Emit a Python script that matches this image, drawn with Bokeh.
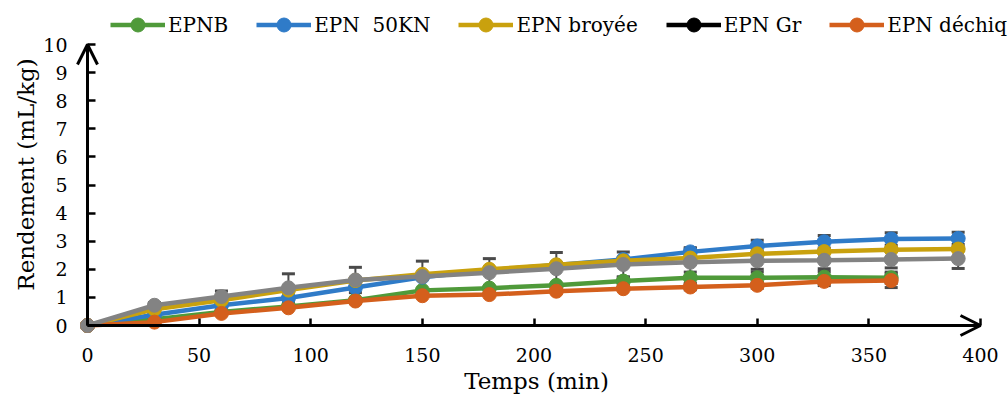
import math
from bokeh.plotting import figure
from bokeh.models import (Range1d, FixedTicker, Arrow, OpenHead, Legend,
                          LegendItem, Label)
from bokeh.embed import file_html
from bokeh.resources import INLINE

# ---------------- data ----------------
time_min = [0, 30, 60, 90, 120, 150, 180, 210, 240, 270, 300, 330, 360, 390]

epnb = [0, 0.22, 0.48, 0.68, 0.9, 1.25, 1.33, 1.43, 1.58, 1.7, 1.7, 1.72, 1.7]
epnb_err = [0, 0, 0, 0, 0, 0, 0, 0, 0.15, 0.2, 0.2, 0.2, 0.2]

epn_50kn = [0, 0.38, 0.72, 0.98, 1.35, 1.72, 1.97, 2.15, 2.35, 2.62, 2.83, 2.98, 3.08, 3.1]
epn_50kn_err = [0, 0, 0, 0, 0, 0, 0, 0, 0, 0.15, 0.2, 0.22, 0.22, 0.22]

epn_broyee = [0, 0.58, 0.9, 1.26, 1.6, 1.82, 2.0, 2.16, 2.3, 2.4, 2.55, 2.63, 2.7, 2.72]
epn_broyee_err = [0, 0, 0, 0, 0, 0, 0, 0, 0, 0.05, 0.05, 0.05, 0.05, 0.05]

epn_dechiq = [0, 0.12, 0.43, 0.63, 0.87, 1.06, 1.1, 1.22, 1.31, 1.37, 1.43, 1.57, 1.6]
epn_dechiq_err = [0, 0, 0, 0, 0, 0, 0, 0, 0, 0.1, 0.1, 0.15, 0.25]

epn_gris = [0, 0.72, 1.03, 1.34, 1.62, 1.74, 1.88, 2.02, 2.17, 2.25, 2.3, 2.32, 2.35, 2.38]
epn_gris_err = [0, 0.1, 0.2, 0.5, 0.45, 0.55, 0.5, 0.58, 0.45, 0.5, 0.3, 0.3, 0.3, 0.35]

x_ticks = [0, 50, 100, 150, 200, 250, 300, 350, 400]
y_ticks = [0, 1, 2, 3, 4, 5, 6, 7, 8, 9, 10]

legend_labels = ["EPNB", "EPN  50KN", "EPN broyée", "EPN Gr", "EPN déchiq"]
x_title = "Temps (min)"
y_title = "Rendement (mL/kg)"

# ---------------- style ----------------
FONT = "DejaVu Serif"
C_GREEN = "#4F9A3A"
C_BLUE = "#2F7BC8"
C_GOLD = "#C9A10E"
C_BLACK = "#000000"
C_ORANGE = "#D45F1C"
C_GRAY = "#838383"
C_ERR = "#4A4A4A"
LW = 4.5
MS = 14

W, H = 1008, 395
X0_PX, XPX = 87, 2.2325      # pixel of x=0, pixels per minute
Y0_PX, YPX = 325, 28.1       # pixel of y=0, pixels per unit

p = figure(width=W, height=H, output_backend="svg", toolbar_location=None,
           title_location=None,
           x_range=Range1d(-X0_PX / XPX, (W - X0_PX) / XPX),
           y_range=Range1d(-(H - Y0_PX) / YPX, Y0_PX / YPX),
           min_border_left=0, min_border_right=0, min_border_top=0,
           min_border_bottom=0)
p.grid.visible = False
p.outline_line_color = None
p.background_fill_color = "white"
p.border_fill_color = "white"

for ax, ticks in ((p.xaxis[0], x_ticks), (p.yaxis[0], y_ticks)):
    ax.fixed_location = 0
    ax.ticker = FixedTicker(ticks=ticks)
    ax.axis_line_color = None
    ax.major_tick_out = 0
    ax.major_tick_line_width = 2.5
    ax.major_tick_line_color = "black"
    ax.minor_tick_line_color = None
    ax.major_label_text_font = FONT
    ax.major_label_text_font_size = "19px"
    ax.major_label_text_color = "black"

p.xaxis[0].major_tick_in = 7
p.xaxis[0].major_label_standoff = 22
p.yaxis[0].major_tick_in = 8
p.yaxis[0].major_label_standoff = 20

p.add_layout(Label(x=536, y=H - 380, x_units="screen", y_units="screen",
                   text=x_title, text_font=FONT, text_font_size="23px",
                   text_color="black", text_align="center",
                   text_baseline="middle"))
p.add_layout(Label(x=25, y=H - 174, x_units="screen", y_units="screen",
                   text=y_title, text_font=FONT, text_font_size="23px",
                   text_color="black", text_align="center",
                   text_baseline="middle", angle=math.pi / 2))

# error bars (drawn beneath the series)
def errorbars(vals, errs):
    t = time_min[:len(vals)]
    lo = [v - e for v, e in zip(vals, errs)]
    hi = [v + e for v, e in zip(vals, errs)]
    p.segment(x0=t, y0=lo, x1=t, y1=hi, line_color=C_ERR, line_width=2)
    p.scatter(x=t + t, y=lo + hi, marker="dash", size=13, line_color=C_ERR,
              line_width=3)

for vals, errs in ((epnb, epnb_err), (epn_50kn, epn_50kn_err),
                   (epn_broyee, epn_broyee_err), (epn_dechiq, epn_dechiq_err),
                   (epn_gris, epn_gris_err)):
    errorbars(vals, errs)

def series(vals, color):
    t = time_min[:len(vals)]
    r1 = p.line(x=t, y=vals, line_color=color, line_width=LW)
    r2 = p.scatter(x=t, y=vals, marker="circle", size=MS, fill_color=color,
                   line_color=color)
    return [r1, r2]

r_epnb = series(epnb, C_GREEN)
r_50kn = series(epn_50kn, C_BLUE)
r_broy = series(epn_broyee, C_GOLD)
# legend-only proxy for the black "EPN Gr" entry (no visible point)
nan = float("nan")
r_gr = [p.line(x=[nan], y=[nan], line_color=C_BLACK, line_width=LW),
        p.scatter(x=[nan], y=[nan], marker="circle", size=MS,
                  fill_color=C_BLACK, line_color=C_BLACK)]
r_dech = series(epn_dechiq, C_ORANGE)
r_gris = series(epn_gris, C_GRAY)

# axes with arrow heads
p.add_layout(Arrow(end=OpenHead(size=20, line_width=3, line_color="black"),
                   x_start=x_ticks[0], y_start=y_ticks[0], x_end=x_ticks[-1],
                   y_end=y_ticks[0], line_width=3, line_color="black"))
p.add_layout(Arrow(end=OpenHead(size=20, line_width=3, line_color="black"),
                   x_start=x_ticks[0], y_start=y_ticks[0], x_end=x_ticks[0],
                   y_end=y_ticks[-1], line_width=3, line_color="black"))

items = [LegendItem(label=lab, renderers=rs) for lab, rs in
         zip(legend_labels, [r_epnb, r_50kn, r_broy, r_gr, r_dech])]
legend = Legend(items=items, orientation="horizontal",
                location=(110, H - 25 - 17),
                label_text_font=FONT, label_text_font_size="20px",
                label_text_color="black", glyph_width=55, glyph_height=35,
                label_standoff=3, spacing=28, padding=0, margin=0,
                border_line_color=None, background_fill_alpha=0)
p.add_layout(legend, "center")

open("out.html", "w").write(file_html(p, INLINE))
